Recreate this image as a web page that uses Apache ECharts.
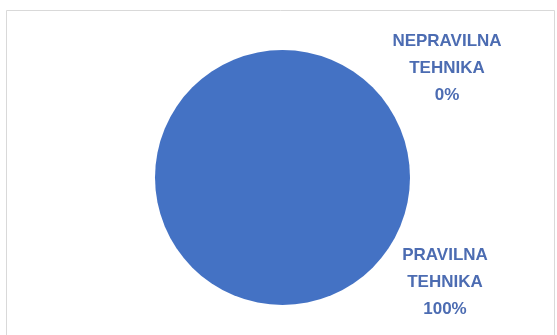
<!DOCTYPE html>
<html>
<head>
<meta charset="utf-8">
<style>
  html, body { margin: 0; padding: 0; background: #ffffff; }
  #chart { width: 557px; height: 335px; }
</style>
<script src="https://cdn.jsdelivr.net/npm/echarts@6/dist/echarts.min.js"></script>
</head>
<body>
<div id="chart"></div>
<script>
// Technique assessment: share of correct vs. incorrect technique
const categories = ['NEPRAVILNA TEHNIKA', 'PRAVILNA TEHNIKA'];
const values = [0, 100];
const colors = ['#ED7D31', '#4472C4'];

// label anchor points (centre of each text block)
const labelSpots = [
  { x: 447, y: 68 },
  { x: 445, y: 282 }
];

const chart = echarts.init(document.getElementById('chart'), null, { renderer: 'canvas' });

chart.setOption({
  animation: false,
  backgroundColor: '#ffffff',
  graphic: [{
    type: 'rect',
    silent: true,
    shape: { x: 6.5, y: 10.5, width: 548, height: 340 },
    style: { fill: 'none', stroke: '#d9d9d9', lineWidth: 1 }
  }],
  series: [{
    type: 'pie',
    center: [282.5, 177.5],
    radius: 127.5,
    startAngle: 90,
    clockwise: true,
    minShowLabelAngle: 0,
    avoidLabelOverlap: false,
    itemStyle: { borderWidth: 0 },
    emphasis: { disabled: true },
    labelLine: { show: false },
    label: {
      show: true,
      position: 'outside',
      formatter: p => p.name.replace(' ', '\n') + '\n' + Math.round(p.percent) + '%',
      fontFamily: 'Liberation Sans, Arial, sans-serif',
      fontWeight: 'bold',
      fontSize: 17,
      lineHeight: 27,
      color: '#4c6cb2',
      align: 'center'
    },
    labelLayout: p => ({
      x: labelSpots[p.dataIndex].x,
      y: labelSpots[p.dataIndex].y,
      align: 'center',
      verticalAlign: 'middle'
    }),
    data: categories.map((name, i) => ({
      name,
      value: values[i],
      itemStyle: { color: colors[i] }
    }))
  }]
});
</script>
</body>
</html>
